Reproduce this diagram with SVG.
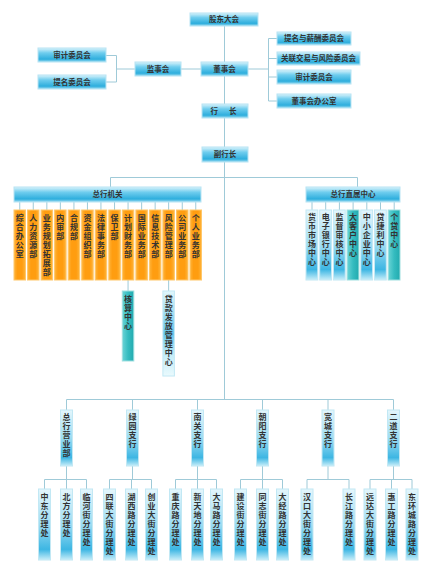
<svg xmlns="http://www.w3.org/2000/svg" width="439" height="578" viewBox="0 0 439 578">
<defs>
<linearGradient id="gh" x1="0" y1="0" x2="0" y2="1">
<stop offset="0" stop-color="#d9f3fb"/><stop offset="0.35" stop-color="#6fcdee"/><stop offset="0.8" stop-color="#2eaedd"/><stop offset="1" stop-color="#9edcf2"/>
</linearGradient>
<linearGradient id="gv" x1="0" y1="0" x2="0" y2="1">
<stop offset="0" stop-color="#e4f6fc"/><stop offset="0.5" stop-color="#9ddcf2"/><stop offset="0.85" stop-color="#3db6e3"/><stop offset="1" stop-color="#c9eef9"/>
</linearGradient>
<linearGradient id="go" x1="0" y1="0" x2="1" y2="0">
<stop offset="0" stop-color="#ffb43a"/><stop offset="0.3" stop-color="#ff9d10"/><stop offset="0.7" stop-color="#ff9d10"/><stop offset="1" stop-color="#ffb43a"/>
</linearGradient>
<linearGradient id="gt" x1="0" y1="0" x2="1" y2="0">
<stop offset="0" stop-color="#6ad4d6"/><stop offset="0.5" stop-color="#35bcc0"/><stop offset="1" stop-color="#22aaae"/>
</linearGradient>
<linearGradient id="gd" x1="0" y1="0" x2="0" y2="1">
<stop offset="0" stop-color="#e2f7fc"/><stop offset="0.5" stop-color="#62c4ea"/><stop offset="0.75" stop-color="#c3ecf8"/><stop offset="1" stop-color="#eafafd"/>
</linearGradient>
</defs>
<style>
.h{fill:url(#gh);stroke:#b8e4f3;stroke-width:1}
.v{fill:url(#gv);stroke:#c2e8f4;stroke-width:1}
.o{fill:url(#go);stroke:#ffc76a;stroke-width:1}
.t{fill:url(#gt);stroke:#9fdfe0;stroke-width:1}
.d{fill:url(#gd);stroke:#c2e8f4;stroke-width:1}
text{font-family:"Noto Sans CJK SC","Noto Sans",sans-serif;font-size:7.5px;font-weight:700;fill:#333}
.c{text-anchor:middle}
.vt{font-size:8px;writing-mode:vertical-rl;text-orientation:upright;letter-spacing:1px}
.ln{fill:none;stroke:#9fcad8;stroke-width:1}
</style>
<rect width="439" height="578" fill="#fff"/>
<g id="connectors" class="ln">
<path d="M224.5 26V399"/>
<path d="M116 69H268"/>
<path d="M106 55.5H116.5M106 82H116.5M116.5 55.5V82"/>
<path d="M268.5 38.5V101M268.5 38.5H277M268.5 58.5H277M268.5 77H277M268.5 101H277"/>
<path d="M110.5 177.5H357.5M110.5 177.5V187M357.5 177.5V187"/>
<path d="M19.75 202V210M33.25 202V210M46.85 202V210M60.35 202V210M73.95 202V210M87.45 202V210M100.95 202V210M114.55 202V210M128.05 202V210M141.65 202V210M155.15 202V210M168.65 202V210M182.25 202V210M195.75 202V210"/>
<path d="M312 202V210M325.7 202V210M339.4 202V210M353.1 202V210M366.8 202V210M380.5 202V210M394.2 202V210"/>
<path d="M128.05 280V291M168.65 280V291"/>
<path d="M66.5 399.5H393.5M66.5 399.5V410M132.5 399.5V410M197.5 399.5V410M262.5 399.5V410M328 399.5V410M393.5 399.5V410"/>
<path d="M66.5 466V479.5M44.5 479.5H86.5M44.5 479.5V489M66.5 479.5V489M86.5 479.5V489"/>
<path d="M132.5 466V479.5M109.5 479.5H151.5M109.5 479.5V489M131.5 479.5V489M151.5 479.5V489"/>
<path d="M197.5 466V479.5M175.5 479.5H216.5M175.5 479.5V489M197.5 479.5V489M216.5 479.5V489"/>
<path d="M262.5 466V479.5M240.5 479.5H282.5M240.5 479.5V489M262.5 479.5V489M282.5 479.5V489"/>
<path d="M328 466V479.5M307 479.5H349M307 479.5V489M349 479.5V489"/>
<path d="M393.5 466V479.5M370 479.5H412M370 479.5V489M391.5 479.5V489M412 479.5V489"/>
</g>
<g id="n-gudong"><rect class="h" x="190" y="13" width="68" height="13"/><text class="c" x="224" y="22.3">股东大会</text></g>
<g id="n-shenji-l"><rect class="h" x="38" y="48" width="68" height="14"/><text class="c" x="72" y="57.8">审计委员会</text></g>
<g id="n-timing-l"><rect class="h" x="38" y="75" width="68" height="14"/><text class="c" x="72" y="84.8">提名委员会</text></g>
<g id="n-jianshi"><rect class="h" x="135" y="62" width="46" height="14"/><text class="c" x="158" y="71.8">监事会</text></g>
<g id="n-dongshi"><rect class="h" x="201" y="62" width="47" height="14"/><text class="c" x="224.5" y="71.8">董事会</text></g>
<g id="n-xinchou"><rect class="h" x="277" y="32" width="74" height="13"/><text class="c" x="314" y="41.3">提名与薪酬委员会</text></g>
<g id="n-guanlian"><rect class="h" x="277" y="52" width="83" height="13"/><text class="c" x="318.5" y="61.3">关联交易与风险委员会</text></g>
<g id="n-shenji-r"><rect class="h" x="277" y="70" width="74" height="14"/><text class="c" x="314" y="79.8">审计委员会</text></g>
<g id="n-bangongshi"><rect class="h" x="277" y="94" width="74" height="14"/><text class="c" x="314" y="103.8">董事会办公室</text></g>
<g id="n-hangzhang"><rect class="h" x="202" y="104" width="46" height="14"/><text x="210.5" y="113.8">行</text><text x="229" y="113.8">长</text></g>
<g id="n-fuhangzhang"><rect class="h" x="202" y="147" width="46" height="15"/><text class="c" x="225" y="157.3">副行长</text></g>
<g id="n-zonghangjiguan"><rect class="h" x="14" y="187" width="187" height="15"/><text class="c" x="107.5" y="197.3">总行机关</text></g>
<g id="n-zhishu"><rect class="h" x="306" y="187" width="94" height="15"/><text class="c" x="353" y="197.3">总行直属中心</text></g>

<g id="n-zonghe"><rect class="o" x="14" y="210" width="11.5" height="70"/><text class="vt" x="19.75" y="214">综合办公室</text></g>
<g id="n-renli"><rect class="o" x="27.5" y="210" width="11.5" height="70"/><text class="vt" x="33.25" y="214">人力资源部</text></g>
<g id="n-yewu"><rect class="o" x="41.1" y="210" width="11.5" height="70"/><text class="vt" x="46.85" y="214">业务规划拓展部</text></g>
<g id="n-neishen"><rect class="o" x="54.6" y="210" width="11.5" height="70"/><text class="vt" x="60.35" y="214">内审部</text></g>
<g id="n-hegui"><rect class="o" x="68.2" y="210" width="11.5" height="70"/><text class="vt" x="73.95" y="214">合规部</text></g>
<g id="n-zijin"><rect class="o" x="81.7" y="210" width="11.5" height="70"/><text class="vt" x="87.45" y="214">资金组织部</text></g>
<g id="n-falv"><rect class="o" x="95.2" y="210" width="11.5" height="70"/><text class="vt" x="100.95" y="214">法律事务部</text></g>
<g id="n-baowei"><rect class="o" x="108.8" y="210" width="11.5" height="70"/><text class="vt" x="114.55" y="214">保卫部</text></g>
<g id="n-jihua"><rect class="o" x="122.3" y="210" width="11.5" height="70"/><text class="vt" x="128.05" y="214">计划财务部</text></g>
<g id="n-guoji"><rect class="o" x="135.9" y="210" width="11.5" height="70"/><text class="vt" x="141.65" y="214">国际业务部</text></g>
<g id="n-xinxi"><rect class="o" x="149.4" y="210" width="11.5" height="70"/><text class="vt" x="155.15" y="214">信息技术部</text></g>
<g id="n-fengxian"><rect class="o" x="162.9" y="210" width="11.5" height="70"/><text class="vt" x="168.65" y="214">风险管理部</text></g>
<g id="n-gongsi"><rect class="o" x="176.5" y="210" width="11.5" height="70"/><text class="vt" x="182.25" y="214">公司业务部</text></g>
<g id="n-geren"><rect class="o" x="190" y="210" width="11.5" height="70"/><text class="vt" x="195.75" y="214">个人业务部</text></g>

<g id="n-hesuan"><rect class="t" x="122.3" y="291" width="11.5" height="70"/><text class="vt" x="128.05" y="295">核算中心</text></g>
<g id="n-daikuan"><rect class="d" x="162.9" y="291" width="11.5" height="85"/><text class="vt" x="168.65" y="295">贷款发放管理中心</text></g>

<g id="n-huobi"><rect class="v" x="306" y="210" width="11.8" height="70"/><text class="vt" x="312" y="213">货币市场中心</text></g>
<g id="n-dianzi"><rect class="v" x="319.7" y="210" width="11.8" height="70"/><text class="vt" x="325.7" y="213">电子银行中心</text></g>
<g id="n-jiandu"><rect class="v" x="333.4" y="210" width="11.8" height="70"/><text class="vt" x="339.4" y="213">监督审核中心</text></g>
<g id="n-dakehu"><rect class="t" x="347.1" y="210" width="11.8" height="70"/><text class="vt" x="353.1" y="213">大客户中心</text></g>
<g id="n-zhongxiao"><rect class="v" x="360.8" y="210" width="11.8" height="70"/><text class="vt" x="366.8" y="213">中小企业中心</text></g>
<g id="n-daijieli"><rect class="v" x="374.5" y="210" width="11.8" height="70"/><text class="vt" x="380.5" y="213">贷捷利中心</text></g>
<g id="n-gedai"><rect class="t" x="388.2" y="210" width="11.8" height="70"/><text class="vt" x="394.2" y="213">个贷中心</text></g>

<g id="n-yingyebu"><rect class="v" x="60.5" y="410" width="12" height="56"/><text class="vt" x="66.5" y="413">总行营业部</text></g>
<g id="n-lvyuan"><rect class="v" x="126.5" y="410" width="12" height="56"/><text class="vt" x="132.5" y="413">绿园支行</text></g>
<g id="n-nanguan"><rect class="v" x="191.5" y="410" width="12" height="56"/><text class="vt" x="197.5" y="413">南关支行</text></g>
<g id="n-chaoyang"><rect class="v" x="256.5" y="410" width="12" height="56"/><text class="vt" x="262.5" y="413">朝阳支行</text></g>
<g id="n-kuancheng"><rect class="v" x="322" y="410" width="12" height="56"/><text class="vt" x="328" y="413">宽城支行</text></g>
<g id="n-erdao"><rect class="v" x="387.5" y="410" width="12" height="56"/><text class="vt" x="393.5" y="413">二道支行</text></g>

<g id="n-zhongdong"><rect class="v" x="38.5" y="489" width="12" height="71"/><text class="vt" x="44.5" y="493">中东分理处</text></g>
<g id="n-beifang"><rect class="v" x="60.5" y="489" width="12" height="71"/><text class="vt" x="66.5" y="493">北方分理处</text></g>
<g id="n-linhe"><rect class="v" x="80.5" y="489" width="12" height="71"/><text class="vt" x="86.5" y="493">临河街分理处</text></g>
<g id="n-silian"><rect class="v" x="103.5" y="489" width="12" height="71"/><text class="vt" x="109.5" y="493">四联大街分理处</text></g>
<g id="n-huxi"><rect class="v" x="125.5" y="489" width="12" height="71"/><text class="vt" x="131.5" y="493">湖西路分理处</text></g>
<g id="n-chuangye"><rect class="v" x="145.5" y="489" width="12" height="71"/><text class="vt" x="151.5" y="493">创业大街分理处</text></g>
<g id="n-chongqing"><rect class="v" x="169.5" y="489" width="12" height="71"/><text class="vt" x="175.5" y="493">重庆路分理处</text></g>
<g id="n-xintiandi"><rect class="v" x="191.5" y="489" width="12" height="71"/><text class="vt" x="197.5" y="493">新天地分理处</text></g>
<g id="n-damalu"><rect class="v" x="210.5" y="489" width="12" height="71"/><text class="vt" x="216.5" y="493">大马路分理处</text></g>
<g id="n-jianshe"><rect class="v" x="234.5" y="489" width="12" height="71"/><text class="vt" x="240.5" y="493">建设街分理处</text></g>
<g id="n-tongzhi"><rect class="v" x="256.5" y="489" width="12" height="71"/><text class="vt" x="262.5" y="493">同志街分理处</text></g>
<g id="n-dajing"><rect class="v" x="276.5" y="489" width="12" height="71"/><text class="vt" x="282.5" y="493">大经路分理处</text></g>
<g id="n-hankou"><rect class="v" x="301" y="489" width="12" height="71"/><text class="vt" x="307" y="493">汉口大街分理处</text></g>
<g id="n-changjiang"><rect class="v" x="343" y="489" width="12" height="71"/><text class="vt" x="349" y="493">长江路分理处</text></g>
<g id="n-yuanda"><rect class="v" x="364" y="489" width="12" height="71"/><text class="vt" x="370" y="493">远达大街分理处</text></g>
<g id="n-huigong"><rect class="v" x="385.5" y="489" width="12" height="71"/><text class="vt" x="391.5" y="493">惠工路分理处</text></g>
<g id="n-donghuan"><rect class="v" x="406" y="489" width="12" height="71"/><text class="vt" x="412" y="493">东环城路分理处</text></g>
</svg>
